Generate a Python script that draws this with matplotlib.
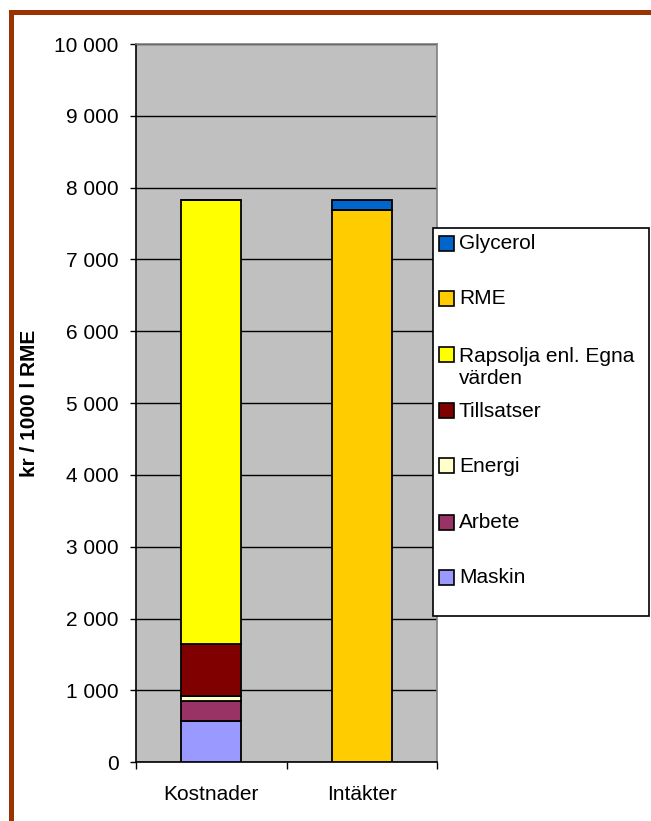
import numpy as np
from matplotlib import pyplot as plt
from matplotlib.patches import Rectangle
from matplotlib.ticker import FuncFormatter, FixedLocator

plt.rcParams['font.family'] = ['Liberation Sans', 'DejaVu Sans']

categories = ['Kostnader', 'Intäkter']

# stacked series, bottom to top (kr / 1000 l RME)
series_names = ['Maskin', 'Arbete', 'Energi', 'Tillsatser',
                'Rapsolja enl. Egna\nvärden', 'RME', 'Glycerol']
series_values = [
    [580, 0],
    [273, 0],
    [70, 0],
    [724, 0],
    [6181, 0],
    [0, 7689],
    [0, 139],
]
series_colors = ['#9999FF', '#993366', '#FFFFCC', '#800000',
                 '#FFFF00', '#FFCC00', '#0066CC']

W, H = 651, 821
fig = plt.figure(figsize=(W / 100, H / 100), dpi=100)

def fx(px):
    return px / W

def fy(py):
    return 1 - py / H

ax = fig.add_axes([fx(136), fy(762.3), fx(437) - fx(136), fy(44) - fy(762.3)])
ax.set_facecolor('#C0C0C0')

x = np.arange(len(categories))
bottom = np.zeros(len(categories))
for name, vals, col in zip(series_names, series_values, series_colors):
    vals = np.array(vals, dtype=float)
    ax.bar(x, vals, 0.4, bottom=bottom, color=col, edgecolor='black',
           linewidth=1.3, zorder=3)
    bottom += vals

ax.set_xlim(-0.5, 1.5)
ax.set_ylim(0, 10000)
ax.set_yticks(np.arange(0, 10001, 1000))
ax.yaxis.set_major_formatter(FuncFormatter(lambda v, p: f'{int(v):,}'.replace(',', ' ')))
ax.grid(axis='y', color='black', linewidth=1.0, zorder=1)
ax.set_axisbelow(True)

# category boundaries get tick marks, names sit centred below
ax.xaxis.set_major_locator(FixedLocator([-0.5, 0.5, 1.5]))
ax.xaxis.set_minor_locator(FixedLocator(x))
ax.set_xticklabels([])
ax.set_xticklabels(categories, minor=True)
ax.tick_params(axis='x', which='major', direction='out', length=5, width=1, color='black')
ax.tick_params(axis='x', which='minor', length=0, pad=16, labelsize=15)
ax.tick_params(axis='y', direction='out', length=4.5, width=1, pad=8, labelsize=15)

ax.spines['left'].set_color('black')
ax.spines['bottom'].set_color('black')
ax.spines['top'].set_color('#808080')
ax.spines['right'].set_color('#808080')
for s in ax.spines.values():
    s.set_linewidth(1.2)

fig.text(fx(30), fy(403), 'kr / 1000 l RME', rotation=90, ha='center', va='center',
         fontsize=15, fontweight='bold')

# legend box drawn by hand, entries top to bottom
leg_x0, leg_x1, leg_y0, leg_y1 = 433, 649, 228, 616
fig.add_artist(Rectangle((fx(leg_x0), fy(leg_y1)), fx(leg_x1) - fx(leg_x0), fy(leg_y0) - fy(leg_y1),
                         transform=fig.transFigure, facecolor='white', edgecolor='black',
                         linewidth=1.2, zorder=5))
entry_y = [243, 299, 355, 411, 466, 522, 577]
for i, (name, col) in enumerate(zip(series_names[::-1], series_colors[::-1])):
    yc = entry_y[i]
    fig.add_artist(Rectangle((fx(439), fy(yc + 7.5)), fx(15), 15 / H,
                             transform=fig.transFigure, facecolor=col, edgecolor='black',
                             linewidth=1.2, zorder=6))
    ty = yc + 12.5 if '\n' in name else yc
    fig.text(fx(459), fy(ty), name, ha='left', va='center', fontsize=15,
             linespacing=1.15, zorder=7)

# brown frame around the chart area
fig.add_artist(Rectangle((fx(10.5), fy(H + 20)), fx(W + 20), (H + 20 - 12.5) / H,
                         transform=fig.transFigure, facecolor='none', edgecolor='#993300',
                         linewidth=3.6, zorder=10))

fig.savefig('out.png', dpi=100)
